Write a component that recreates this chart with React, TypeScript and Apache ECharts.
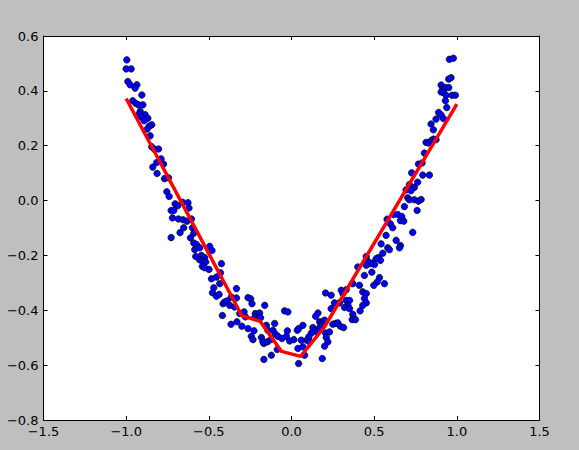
import React, { useEffect, useRef } from "react";
import * as echarts from "echarts";

// Scatter samples, [x, y]
const scatterLeft: number[][] = [
  [-0.996, 0.513], [-1.0, 0.48], [-0.97, 0.48], [-0.99, 0.434], [-0.976, 0.422], [-0.935, 0.422],
  [-0.946, 0.41], [-0.905, 0.385], [-0.96, 0.364], [-0.941, 0.354], [-0.925, 0.349], [-0.899, 0.349],
  [-0.915, 0.325], [-0.925, 0.313], [-0.885, 0.313], [-0.909, 0.305], [-0.869, 0.3], [-0.891, 0.291],
  [-0.845, 0.276], [-0.859, 0.272], [-0.873, 0.261], [-0.855, 0.236], [-0.845, 0.196], [-0.829, 0.187],
  [-0.804, 0.188], [-0.789, 0.152], [-0.815, 0.139], [-0.774, 0.133], [-0.839, 0.122], [-0.813, 0.099],
  [-0.768, 0.08], [-0.744, 0.083], [-0.754, 0.032], [-0.74, 0.015], [-0.704, -0.012], [-0.688, -0.019],
  [-0.728, -0.036], [-0.712, -0.036], [-0.72, -0.063], [-0.684, -0.067], [-0.674, -0.117], [-0.728, -0.135],
  [-0.659, -0.006], [-0.626, -0.008], [-0.62, -0.027], [-0.656, -0.07], [-0.632, -0.075], [-0.605, -0.067],
  [-0.652, -0.099], [-0.599, -0.099], [-0.611, -0.136], [-0.591, -0.119], [-0.591, -0.155], [-0.575, -0.16],
  [-0.585, -0.179], [-0.555, -0.172], [-0.495, -0.167], [-0.481, -0.182], [-0.579, -0.204], [-0.545, -0.2],
  [-0.555, -0.216], [-0.525, -0.208], [-0.535, -0.224], [-0.519, -0.224], [-0.539, -0.24], [-0.499, -0.251],
  [-0.525, -0.245], [-0.424, -0.23], [-0.43, -0.263], [-0.484, -0.285], [-0.454, -0.279], [-0.434, -0.303],
  [-0.47, -0.318], [-0.478, -0.336], [-0.454, -0.349], [-0.438, -0.342], [-0.414, -0.376], [-0.404, -0.37],
  [-0.39, -0.366], [-0.374, -0.382], [-0.333, -0.321], [-0.364, -0.352], [-0.333, -0.355], [-0.344, -0.388],
  [-0.418, -0.419], [-0.366, -0.451], [-0.33, -0.442],
];

const scatterCenter: number[][] = [
  [-0.263, -0.354], [-0.247, -0.358], [-0.239, -0.376], [-0.162, -0.382], [-0.313, -0.412], [-0.287, -0.406],
  [-0.279, -0.424], [-0.3, -0.458], [-0.263, -0.467], [-0.219, -0.412], [-0.193, -0.41], [-0.223, -0.427],
  [-0.187, -0.427], [-0.152, -0.455], [-0.102, -0.448], [-0.143, -0.473], [-0.112, -0.473], [-0.098, -0.487],
  [-0.227, -0.475], [-0.243, -0.495], [-0.233, -0.507], [-0.182, -0.499], [-0.167, -0.521], [-0.146, -0.515],
  [-0.173, -0.515], [-0.126, -0.507], [-0.082, -0.495], [-0.042, -0.402], [-0.022, -0.406], [-0.025, -0.475],
  [-0.031, -0.495], [-0.058, -0.503], [-0.011, -0.512], [0.014, -0.507], [0.035, -0.473], [0.043, -0.467],
  [0.069, -0.455], [-0.086, -0.543], [-0.122, -0.564], [-0.167, -0.579], [0.039, -0.539], [0.043, -0.594],
  [0.079, -0.564], [0.16, -0.41], [0.146, -0.422], [0.17, -0.442], [0.19, -0.442], [0.2, -0.436],
  [0.18, -0.455], [0.17, -0.463], [0.129, -0.463], [0.139, -0.473], [0.153, -0.479], [0.12, -0.483],
  [0.105, -0.497], [0.093, -0.509], [0.109, -0.515], [0.059, -0.509], [0.069, -0.533], [0.206, -0.483],
  [0.23, -0.479], [0.21, -0.499], [0.22, -0.515], [0.2, -0.531], [0.186, -0.576], [0.25, -0.451],
  [0.266, -0.448], [0.28, -0.446], [0.295, -0.458], [0.315, -0.463],
];

const scatterRight: number[][] = [
  [0.452, -0.204], [0.401, -0.242], [0.371, -0.303], [0.441, -0.273], [0.411, -0.309], [0.301, -0.327],
  [0.331, -0.325], [0.311, -0.339], [0.206, -0.337], [0.24, -0.345], [0.431, -0.333], [0.452, -0.339],
  [0.331, -0.364], [0.26, -0.373], [0.29, -0.373], [0.351, -0.364], [0.341, -0.382], [0.321, -0.39],
  [0.351, -0.394], [0.441, -0.357], [0.452, -0.373], [0.431, -0.382], [0.415, -0.402], [0.371, -0.415],
  [0.367, -0.434], [0.387, -0.434], [0.24, -0.394],
  [0.768, 0.133], [0.727, 0.101], [0.713, 0.058], [0.743, 0.048], [0.723, 0.036], [0.693, 0.039],
  [0.703, 0.01], [0.713, 0.003], [0.743, 0.003], [0.768, -0.002], [0.76, -0.036], [0.683, -0.022],
  [0.618, -0.051], [0.643, -0.051], [0.667, -0.058], [0.659, -0.073], [0.679, -0.075], [0.578, -0.068],
  [0.598, -0.085], [0.612, -0.099], [0.733, -0.116], [0.572, -0.127], [0.633, -0.145], [0.659, -0.164],
  [0.653, -0.172], [0.542, -0.158], [0.582, -0.172], [0.592, -0.179], [0.552, -0.192], [0.526, -0.208],
  [0.538, -0.218], [0.512, -0.212], [0.492, -0.228], [0.502, -0.233], [0.478, -0.23], [0.461, -0.221],
  [0.452, -0.236], [0.486, -0.261], [0.532, -0.281], [0.518, -0.297], [0.562, -0.303], [0.498, -0.309],
  [0.955, 0.515], [0.979, 0.519], [0.951, 0.443], [0.965, 0.448], [0.905, 0.421], [0.915, 0.408],
  [0.931, 0.412], [0.905, 0.396], [0.919, 0.394], [0.951, 0.412], [0.935, 0.384], [0.971, 0.384],
  [0.991, 0.384], [0.931, 0.364], [0.939, 0.339], [0.89, 0.321], [0.905, 0.312], [0.874, 0.297],
  [0.919, 0.299], [0.844, 0.279], [0.858, 0.258], [0.814, 0.212], [0.83, 0.21], [0.844, 0.218],
  [0.858, 0.224], [0.874, 0.222], [0.804, 0.173], [0.79, 0.137], [0.794, 0.093], [0.834, 0.093],
  [0.763, 0.067], [0.784, 0.004],
];

// Fitted (red) curve vertices
const fitX: number[] = [-1.0, -0.3, -0.19, -0.06, 0.055, 0.2, 1.0];
const fitY: number[] = [0.372, -0.42, -0.44, -0.55, -0.568, -0.46, 0.352];

const xRange = { min: -1.5, max: 1.5, interval: 0.5 };
const yRange = { min: -0.8, max: 0.6, interval: 0.2 };

const FONT = "DejaVu Sans";
const fmt = (v: number) => (v < 0 ? "\u2212" : "") + Math.abs(v).toFixed(1);

export default function App() {
  const ref = useRef<HTMLDivElement>(null);

  useEffect(() => {
    document.body.style.margin = "0";
    document.body.style.background = "#bfbfbf";
    if (!ref.current) return;
    const chart = echarts.init(ref.current, undefined, { renderer: "svg" });

    const axisCommon = {
      type: "value" as const,
      splitLine: { show: false },
      axisLine: { show: true, onZero: false, lineStyle: { color: "#000", width: 1 } },
      axisTick: { show: true, inside: true, length: 4, lineStyle: { color: "#000", width: 1 } },
    };

    const points = [...scatterLeft, ...scatterCenter, ...scatterRight];
    const fit = fitX.map((x, i) => [x, fitY[i]]);

    chart.setOption({
      animation: false,
      backgroundColor: "#bfbfbf",
      grid: {
        left: 43.5,
        right: 39.5,
        top: 36,
        bottom: 30,
        show: true,
        backgroundColor: "#ffffff",
        borderWidth: 0,
        containLabel: false,
      },
      xAxis: [
        {
          ...axisCommon,
          position: "bottom",
          ...xRange,
          axisLabel: { formatter: fmt, color: "#000", fontFamily: FONT, fontSize: 13, lineHeight: 12, margin: 5 },
        },
        {
          ...axisCommon,
          position: "top",
          ...xRange,
          axisLabel: { show: false },
        },
      ],
      yAxis: [
        {
          ...axisCommon,
          position: "left",
          ...yRange,
          axisLabel: { formatter: fmt, color: "#000", fontFamily: FONT, fontSize: 13, lineHeight: 10, margin: 5 },
        },
        {
          ...axisCommon,
          position: "right",
          ...yRange,
          axisLabel: { show: false },
        },
      ],
      series: [
        {
          type: "scatter",
          data: points,
          symbol: "circle",
          symbolSize: 6.5,
          itemStyle: { color: "#0000ff", borderColor: "#000", borderWidth: 0.7, opacity: 1 },
          z: 2,
        },
        {
          type: "line",
          data: fit,
          symbol: "none",
          lineStyle: { color: "#ff0000", width: 3.5 },
          z: 3,
        },
      ],
    });

    return () => chart.dispose();
  }, []);

  return <div ref={ref} style={{ width: 579, height: 450, background: "#bfbfbf" }} />;
}
